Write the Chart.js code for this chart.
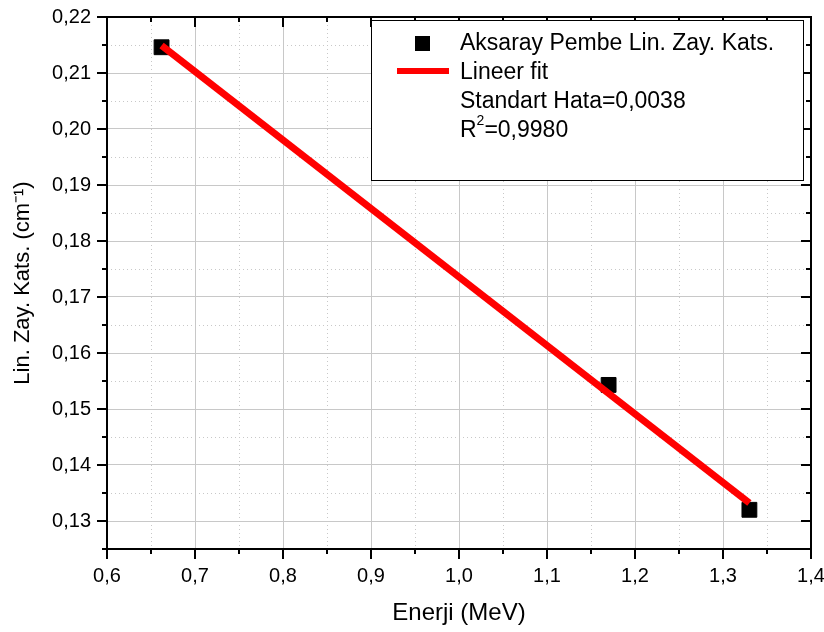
<!DOCTYPE html>
<html>
<head>
<meta charset="utf-8">
<script src="https://cdn.jsdelivr.net/npm/chart.js@4.4.1/dist/chart.umd.min.js"></script>
<style>
  html, body { margin: 0; padding: 0; background: #fff; }
</style>
</head>
<body>
<canvas id="chart" width="824" height="632"></canvas>
<script>
// olculen noktalar
const energy = [0.662, 1.17, 1.33];
const attenuation = [0.2146, 0.1543, 0.1320];

// lineer fit uclari
const fitX = [0.662, 1.33];
const fitY = [0.2149, 0.1332];

// eksen etiketleri
const xTicks = [0.6, 0.7, 0.8, 0.9, 1.0, 1.1, 1.2, 1.3, 1.4];
const xMinor = [0.65, 0.75, 0.85, 0.95, 1.05, 1.15, 1.25, 1.35];
const yTicks = [0.13, 0.14, 0.15, 0.16, 0.17, 0.18, 0.19, 0.20, 0.21, 0.22];
const yMinor = [0.125, 0.135, 0.145, 0.155, 0.165, 0.175, 0.185, 0.195, 0.205, 0.215];

const legendLines = ['Aksaray Pembe Lin. Zay. Kats.', 'Lineer fit', 'Standart Hata=0,0038'];
const r2Text = '=0,9980';

const FONT = 'Liberation Sans, Arial, sans-serif';
const comma = (v, d) => v.toFixed(d).replace('.', ',');

// kucuk grid + eksen cizgileri + tikler
const framePlugin = {
  id: 'frame',
  beforeDatasetsDraw(chart) {
    const { ctx, chartArea: a, scales: { x, y } } = chart;
    ctx.save();
    ctx.strokeStyle = '#c8c8c8';
    ctx.lineWidth = 1;
    ctx.setLineDash([1, 3]);
    xMinor.forEach(v => {
      const px = Math.round(x.getPixelForValue(v)) + 0.5;
      ctx.beginPath(); ctx.moveTo(px, a.top); ctx.lineTo(px, a.bottom); ctx.stroke();
    });
    yMinor.forEach(v => {
      const py = Math.round(y.getPixelForValue(v)) + 0.5;
      ctx.beginPath(); ctx.moveTo(a.left, py); ctx.lineTo(a.right, py); ctx.stroke();
    });
    ctx.restore();
  },
  afterDatasetsDraw(chart) {
    const { ctx, chartArea: a, scales: { x, y } } = chart;
    ctx.save();
    ctx.strokeStyle = '#000';
    ctx.lineWidth = 2;
    ctx.setLineDash([]);
    ctx.strokeRect(a.left, a.top, a.right - a.left, a.bottom - a.top);
    const tick = (vals, len) => {
      vals.forEach(v => {
        const px = x.getPixelForValue(v);
        ctx.beginPath();
        ctx.moveTo(px, a.bottom); ctx.lineTo(px, a.bottom + len);
        ctx.moveTo(px, a.top); ctx.lineTo(px, a.top + len);
        ctx.stroke();
      });
    };
    const tickY = (vals, len) => {
      vals.forEach(v => {
        const py = y.getPixelForValue(v);
        ctx.beginPath();
        ctx.moveTo(a.left, py); ctx.lineTo(a.left - len, py);
        ctx.moveTo(a.right, py); ctx.lineTo(a.right - len, py);
        ctx.stroke();
      });
    };
    tick(xTicks, 10); tick(xMinor, 5);
    tickY(yTicks, 10); tickY(yMinor, 5);
    ctx.restore();
  },
  afterDraw(chart) {
    const { ctx } = chart;
    ctx.save();
    // legend kutusu
    ctx.fillStyle = '#fff';
    ctx.fillRect(371, 20, 432, 160);
    ctx.strokeStyle = '#000';
    ctx.lineWidth = 1;
    ctx.strokeRect(371.5, 20.5, 432, 160);
    ctx.fillStyle = '#000';
    ctx.fillRect(415, 36, 15, 15);
    ctx.strokeStyle = '#ff0000';
    ctx.lineWidth = 6;
    ctx.beginPath(); ctx.moveTo(397, 71); ctx.lineTo(449, 71); ctx.stroke();
    ctx.fillStyle = '#000';
    ctx.font = '23px ' + FONT;
    ctx.textBaseline = 'middle';
    legendLines.forEach((t, i) => ctx.fillText(t, 460, 44 + i * 29));
    const ry = 44 + 3 * 29;
    ctx.fillText('R', 460, ry);
    const rw = ctx.measureText('R').width;
    ctx.font = '14px ' + FONT;
    ctx.fillText('2', 460 + rw, ry - 10);
    const sw = ctx.measureText('2').width;
    ctx.font = '23px ' + FONT;
    ctx.fillText(r2Text, 460 + rw + sw, ry);
    ctx.restore();
  }
};

const ctx = document.getElementById('chart').getContext('2d');
new Chart(ctx, {
  type: 'scatter',
  data: {
    datasets: [{
      label: 'Lineer fit',
      type: 'line',
      data: fitX.map((v, i) => ({ x: v, y: fitY[i] })),
      borderColor: '#ff0000',
      borderWidth: 7,
      pointRadius: 0,
      fill: false,
      order: 1
    }, {
      label: 'Aksaray Pembe Lin. Zay. Kats.',
      data: energy.map((v, i) => ({ x: v, y: attenuation[i] })),
      backgroundColor: '#000',
      borderColor: '#000',
      pointStyle: 'rect',
      pointRadius: 10.5,
      order: 2
    }]
  },
  options: {
    responsive: false,
    animation: false,
    devicePixelRatio: 1,
    layout: { padding: { top: 17, right: 13, left: 0, bottom: 0 } },
    plugins: { legend: { display: false }, tooltip: { enabled: false } },
    scales: {
      x: {
        type: 'linear',
        min: 0.6,
        max: 1.4,
        afterBuildTicks: s => { s.ticks = xTicks.map(v => ({ value: v })); },
        afterFit: s => { s.height = 83; s.paddingLeft = 0; s.paddingRight = 0; },
        ticks: {
          callback: v => comma(v, 1),
          font: { family: FONT, size: 20 },
          color: '#000',
          padding: 15,
          maxRotation: 0
        },
        grid: { color: '#c8c8c8', lineWidth: 1, drawTicks: false },
        border: { display: false },
        title: {
          display: true,
          text: 'Enerji (MeV)',
          font: { family: FONT, size: 24 },
          color: '#000',
          padding: { top: 0, bottom: 4 }
        }
      },
      y: {
        type: 'linear',
        min: 0.125,
        max: 0.22,
        afterBuildTicks: s => { s.ticks = yTicks.map(v => ({ value: v })); },
        afterFit: s => { s.width = 107; s.paddingTop = 0; s.paddingBottom = 0; },
        ticks: {
          callback: v => comma(v, 2),
          font: { family: FONT, size: 20 },
          color: '#000',
          padding: 16
        },
        grid: { color: '#c8c8c8', lineWidth: 1, drawTicks: false },
        border: { display: false },
        title: {
          display: true,
          text: 'Lin. Zay. Kats. (cm⁻¹)',
          font: { family: FONT, size: 22 },
          color: '#000',
          padding: { top: 10, bottom: 0 }
        }
      }
    }
  },
  plugins: [framePlugin]
});
</script>
</body>
</html>
